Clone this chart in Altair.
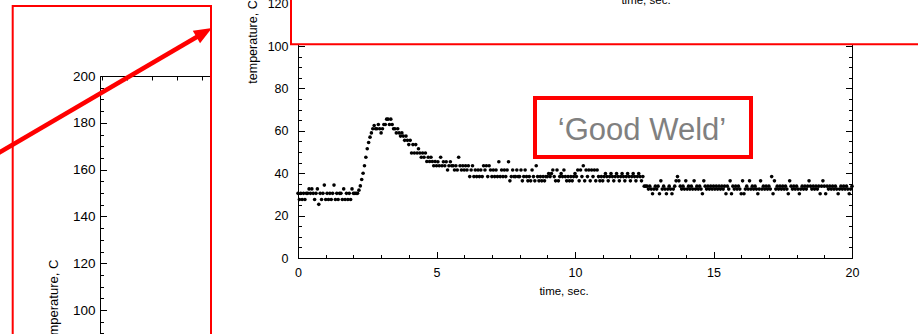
import altair as alt
import pandas as pd

FONT = "Liberation Sans"

# ---------------- data (time, s / temperature, C) ----------------
seg1_time = [0.00, 0.05, 0.10, 0.15, 0.20, 0.25, 0.30, 0.35, 0.40, 0.45,
             0.50, 0.55, 0.60, 0.65, 0.70, 0.75, 0.80, 0.85, 0.90, 0.95,
             1.00, 1.05, 1.10, 1.15, 1.20, 1.25, 1.30, 1.35, 1.40, 1.45,
             1.50, 1.55, 1.60, 1.65, 1.70, 1.75, 1.80, 1.85, 1.90, 1.95,
             2.00, 2.05, 2.10, 2.15]
seg1_temp = [30.5, 27.6, 30.5, 27.6, 30.5, 27.6, 30.5, 30.5, 32.6, 30.5,
             32.6, 30.5, 27.6, 30.5, 32.6, 25.3, 30.5, 27.6, 30.5, 34.4,
             27.6, 30.5, 27.6, 30.5, 27.6, 30.5, 34.4, 27.6, 30.5, 27.6,
             30.5, 30.5, 27.6, 32.6, 27.6, 30.5, 27.6, 30.5, 27.6, 32.6,
             30.5, 30.5, 30.5, 30.5]

seg2_time = [2.20, 2.25, 2.30, 2.35, 2.40, 2.45, 2.50, 2.55, 2.60, 2.65,
             2.70, 2.75, 2.80, 2.85, 2.90, 2.95,
             3.00, 3.05, 3.10, 3.15, 3.20, 3.25, 3.30, 3.35, 3.40, 3.45,
             3.50, 3.55, 3.60, 3.65, 3.70, 3.75, 3.80, 3.85, 3.90, 3.95,
             4.00, 4.05, 4.10, 4.15, 4.20, 4.25, 4.30, 4.35, 4.40, 4.45,
             4.50, 4.55, 4.60, 4.65, 4.70, 4.75, 4.80, 4.85, 4.90, 4.95]
seg2_temp = [32.0, 34.0, 37.0, 40.0, 43.5, 47.5, 51.5, 54.5, 57.0, 59.0,
             61.0, 62.5, 61.0, 61.0, 63.0, 61.0,
             59.0, 61.0, 63.0, 63.0, 65.5, 65.5, 63.0, 65.5, 63.0, 61.0,
             61.0, 59.0, 61.0, 59.0, 57.5, 59.0, 57.5, 55.5, 57.5, 55.5,
             53.5, 55.5, 49.5, 53.5, 49.5, 53.5, 49.5, 51.5, 49.5, 47.5,
             49.5, 47.5, 49.5, 45.5, 47.5, 45.5, 47.5, 45.5, 43.5, 45.5]

seg3_time = [5.00, 5.05, 5.10, 5.15, 5.20, 5.25, 5.30, 5.35, 5.40, 5.45,
             5.50, 5.55, 5.60, 5.65, 5.70, 5.75, 5.80, 5.85, 5.90, 5.95,
             6.00, 6.05, 6.10, 6.15, 6.20, 6.25, 6.30, 6.35, 6.40, 6.45,
             6.50, 6.55, 6.60, 6.65, 6.70, 6.75, 6.80, 6.85, 6.90, 6.95,
             7.00, 7.05, 7.10, 7.15, 7.20, 7.25, 7.30, 7.35, 7.40, 7.45,
             7.50, 7.55, 7.60, 7.65, 7.70, 7.75, 7.80, 7.85, 7.90, 7.95,
             8.00, 8.05, 8.10, 8.15, 8.20, 8.25, 8.30, 8.35, 8.40, 8.45,
             8.50, 8.55, 8.60, 8.65, 8.70, 8.75, 8.80, 8.85, 8.90, 8.95,
             9.00, 9.05, 9.10, 9.15, 9.20, 9.25, 9.30, 9.35, 9.40, 9.45,
             9.50, 9.55, 9.60, 9.65, 9.70, 9.75, 9.80, 9.85, 9.90, 9.95,
             10.00, 10.05, 10.10, 10.15, 10.20, 10.25, 10.30, 10.35, 10.40, 10.45,
             10.50, 10.55, 10.60, 10.65, 10.70, 10.75, 10.80, 10.85, 10.90, 10.95,
             11.00, 11.05, 11.10, 11.15, 11.20, 11.25, 11.30, 11.35, 11.40, 11.45,
             11.50, 11.55, 11.60, 11.65, 11.70, 11.75, 11.80, 11.85, 11.90, 11.95,
             12.00, 12.05, 12.10, 12.15, 12.20, 12.25, 12.30, 12.35, 12.40, 12.45]
seg3_temp = [43.5, 45.4, 43.5, 47.5, 43.5, 45.4, 43.5, 45.4, 41.5, 43.5,
             45.4, 43.5, 43.5, 41.5, 43.5, 41.5, 47.5, 43.5, 41.5, 43.5,
             41.5, 43.5, 41.5, 43.5, 38.4, 41.5, 43.5, 38.4, 41.5, 38.4,
             41.5, 38.4, 41.5, 38.4, 43.5, 41.5, 43.5, 38.4, 43.5, 41.5,
             38.4, 41.5, 38.4, 41.5, 38.4, 45.4, 38.4, 41.5, 38.4, 41.5,
             38.4, 41.5, 45.4, 36.4, 38.4, 41.5, 38.4, 38.4, 41.5, 38.4,
             38.4, 41.5, 36.4, 38.4, 41.5, 38.4, 36.4, 38.4, 36.4, 41.5,
             38.4, 36.4, 43.5, 38.4, 36.4, 38.4, 36.4, 38.4, 36.4, 38.4,
             38.4, 39.8, 38.4, 39.8, 41.5, 38.4, 36.4, 41.5, 36.4, 38.4,
             39.8, 38.4, 41.5, 38.4, 36.4, 38.4, 36.4, 38.4, 36.4, 38.4,
             39.8, 38.4, 41.5, 36.4, 41.5, 38.4, 43.5, 36.4, 41.5, 38.4,
             41.5, 36.4, 41.5, 38.4, 41.5, 36.4, 41.5, 38.4, 36.4, 38.4,
             36.4, 38.4, 39.8, 38.4, 36.4, 38.4, 39.8, 38.4, 36.4, 38.4,
             39.8, 38.4, 36.4, 38.4, 39.8, 38.4, 36.4, 38.4, 39.8, 38.4,
             36.4, 38.4, 39.8, 38.4, 36.4, 38.4, 39.8, 38.4, 36.4, 38.4]

seg4_time = [12.50, 12.55, 12.60, 12.65, 12.70, 12.75, 12.80, 12.85, 12.90, 12.95,
             13.00, 13.05, 13.10, 13.15, 13.20, 13.25, 13.30, 13.35, 13.40, 13.45,
             13.50, 13.55, 13.60, 13.65, 13.70, 13.75, 13.80, 13.85, 13.90, 13.95,
             14.00, 14.05, 14.10, 14.15, 14.20, 14.25, 14.30, 14.35, 14.40, 14.45,
             14.50, 14.55, 14.60, 14.65, 14.70, 14.75, 14.80, 14.85, 14.90, 14.95,
             15.00, 15.05, 15.10, 15.15, 15.20, 15.25, 15.30, 15.35, 15.40, 15.45,
             15.50, 15.55, 15.60, 15.65, 15.70, 15.75, 15.80, 15.85, 15.90, 15.95,
             16.00, 16.05, 16.10, 16.15, 16.20, 16.25, 16.30, 16.35, 16.40, 16.45,
             16.50, 16.55, 16.60, 16.65, 16.70, 16.75, 16.80, 16.85, 16.90, 16.95,
             17.00, 17.05, 17.10, 17.15, 17.20, 17.25, 17.30, 17.35, 17.40, 17.45,
             17.50, 17.55, 17.60, 17.65, 17.70, 17.75, 17.80, 17.85, 17.90, 17.95,
             18.00, 18.05, 18.10, 18.15, 18.20, 18.25, 18.30, 18.35, 18.40, 18.45,
             18.50, 18.55, 18.60, 18.65, 18.70, 18.75, 18.80, 18.85, 18.90, 18.95,
             19.00, 19.05, 19.10, 19.15, 19.20, 19.25, 19.30, 19.35, 19.40, 19.45,
             19.50, 19.55, 19.60, 19.65, 19.70, 19.75, 19.80, 19.85, 19.90, 19.95,
             20.00]
seg4_temp = [33.9, 33.9, 33.9, 32.5, 33.9, 32.5, 30.3, 32.5, 33.9, 32.5,
             33.9, 30.3, 36.4, 32.5, 33.9, 32.5, 30.3, 32.5, 33.9, 32.5,
             30.3, 32.5, 33.9, 36.4, 38.4, 36.4, 33.9, 32.5, 33.9, 32.5,
             36.4, 32.5, 33.9, 32.5, 33.9, 32.5, 36.4, 32.5, 33.9, 32.5,
             33.9, 32.5, 30.3, 36.4, 33.9, 32.5, 33.9, 32.5, 33.9, 32.5,
             33.9, 32.5, 33.9, 32.5, 33.9, 32.5, 33.9, 32.5, 33.9, 30.3,
             33.9, 32.5, 36.4, 30.3, 33.9, 32.5, 33.9, 32.5, 33.9, 32.5,
             30.3, 36.4, 30.3, 32.5, 33.9, 32.5, 36.4, 32.5, 33.9, 32.5,
             33.9, 32.5, 30.3, 32.5, 36.4, 32.5, 33.9, 32.5, 33.9, 32.5,
             33.9, 32.5, 38.4, 30.3, 36.4, 32.5, 33.9, 32.5, 33.9, 32.5,
             33.9, 32.5, 33.9, 32.5, 30.3, 36.4, 33.9, 32.5, 33.9, 32.5,
             33.9, 32.5, 30.3, 32.5, 33.9, 32.5, 33.9, 32.5, 33.9, 36.4,
             33.9, 32.5, 33.9, 32.5, 33.9, 32.5, 33.9, 30.3, 33.9, 36.4,
             33.9, 30.3, 33.9, 32.5, 33.9, 32.5, 33.9, 32.5, 33.9, 32.5,
             30.3, 32.5, 33.9, 32.5, 33.9, 32.5, 33.9, 32.5, 30.3, 32.5,
             33.9]

# tick values
main_x_major = [0, 5, 10, 15, 20]
main_x_minor = [0, 1, 2, 3, 4, 5, 6, 7, 8, 9, 10, 11, 12, 13, 14, 15, 16, 17, 18, 19, 20]
main_y_major = [0, 20, 40, 60, 80, 100, 120]
main_y_minor = [0, 5, 10, 15, 20, 25, 30, 35, 40, 45, 50, 55, 60, 65, 70, 75, 80,
                85, 90, 95, 100, 105, 110, 115, 120]
left_y_major = [100, 120, 140, 160, 180, 200]
left_y_minor = [80, 85, 90, 95, 100, 105, 110, 115, 120, 125, 130, 135, 140, 145,
                150, 155, 160, 165, 170, 175, 180, 185, 190, 195, 200]
left_top_ticks = [0, 1, 2, 3, 4]

# ---------------- build tables ----------------
df = pd.concat([
    pd.DataFrame({"time": seg1_time, "temp": seg1_temp}),
    pd.DataFrame({"time": seg2_time, "temp": seg2_temp}),
    pd.DataFrame({"time": seg3_time, "temp": seg3_temp}),
    pd.DataFrame({"time": seg4_time, "temp": seg4_temp}),
], ignore_index=True)

axis_df = pd.DataFrame({"a": [0.0], "b": [150.0]})
one = pd.DataFrame({"k": [0]})

W, H = 918, 334
XS = alt.Scale(domain=[0, 20], range=[298, 852], nice=False, zero=False)
YS = alt.Scale(domain=[0, 120], range=[258, 3.6], nice=False, zero=False)
LXS = alt.Scale(domain=[-0.08, 4.36], range=[100, 211], nice=False, zero=False)
LYS = alt.Scale(domain=[80, 200], range=[356.8, 76], nice=False, zero=False)


def axis(orient, offset, values, labels=False, ticks=True, size=0.0,
         domain=False, font_size=12.5, pad=0.0):
    return alt.Axis(orient=orient, offset=offset, values=values, labels=labels,
                    ticks=ticks, tickSize=size, domain=domain, grid=False, title=None,
                    domainColor="black", domainWidth=1, tickColor="black", tickWidth=1,
                    labelColor="black", labelFont=FONT, labelFontSize=font_size,
                    labelPadding=pad, labelFlush=False, labelOverlap=False)


ghost = alt.Chart(axis_df).mark_point(opacity=0)

layers = []

# ----- left (partial) chart axes -----
layers.append(ghost.encode(
    x=alt.X("a:Q", scale=LXS, axis=axis("bottom", 76 - H, left_top_ticks, size=4, domain=True)),
    y=alt.Y("b:Q", scale=LYS, axis=axis("right", 100 - W, left_y_minor, size=3.5, domain=True)),
))
layers.append(ghost.encode(
    x=alt.X("a:Q", scale=LXS, axis=None),
    y=alt.Y("b:Q", scale=LYS, axis=axis("right", 100 - W, left_y_major, size=6.5)),
))
layers.append(ghost.encode(
    x=alt.X("a:Q", scale=LXS, axis=None),
    y=alt.Y("b:Q", scale=LYS, axis=axis("left", -100, left_y_major, labels=True,
                                         ticks=False, font_size=13.5, pad=5)),
))

# ----- main chart -----
layers.append(alt.Chart(df).mark_circle(size=13, color="black", opacity=1).encode(
    x=alt.X("time:Q", scale=XS, axis=axis("top", -258, main_x_minor, size=3.5, domain=True)),
    y=alt.Y("temp:Q", scale=YS, axis=axis("right", 298 - W, main_y_minor, size=3.5, domain=True)),
))
layers.append(ghost.encode(
    x=alt.X("a:Q", scale=XS, axis=axis("top", -258, main_x_major, size=6.5)),
    y=alt.Y("a:Q", scale=YS, axis=axis("right", 298 - W, main_y_major, size=6.5)),
))
layers.append(ghost.encode(
    x=alt.X("a:Q", scale=XS, axis=axis("bottom", 258 - H, main_x_major, labels=True,
                                        ticks=False, pad=8)),
    y=alt.Y("a:Q", scale=YS, axis=axis("left", -298, main_y_major, labels=True,
                                        ticks=False, pad=10)),
))
layers.append(ghost.encode(
    x=alt.X("a:Q", scale=XS, axis=None),
    y=alt.Y("a:Q", scale=YS, axis=axis("left", -852, main_y_minor, size=3.5, domain=True)),
))
layers.append(ghost.encode(
    x=alt.X("a:Q", scale=XS, axis=None),
    y=alt.Y("a:Q", scale=YS, axis=axis("left", -852, main_y_major, size=6.5)),
))

# axis titles
layers.append(alt.Chart(one).mark_text(text="time, sec.", font=FONT, fontSize=11.5,
                                       color="black", align="center", baseline="middle")
              .encode(x=alt.value(564), y=alt.value(292)))
layers.append(alt.Chart(one).mark_text(text="temperature, C", font=FONT, fontSize=12.5,
                                       color="black", align="center", baseline="middle",
                                       angle=270)
              .encode(x=alt.value(252.5), y=alt.value(42)))
layers.append(alt.Chart(one).mark_text(text="temperature, C", font=FONT, fontSize=13,
                                       color="black", align="center", baseline="middle",
                                       angle=270)
              .encode(x=alt.value(54), y=alt.value(303)))

# ----- slide annotations -----
layers.append(alt.Chart(one).mark_rect(fillOpacity=0, stroke="#ff0000", strokeWidth=2)
              .encode(x=alt.value(12.7), x2=alt.value(211), y=alt.value(6), y2=alt.value(360)))
layers.append(alt.Chart(one).mark_rect(fill="white", stroke="#ff0000", strokeWidth=2)
              .encode(x=alt.value(291), x2=alt.value(940), y=alt.value(-20), y2=alt.value(44.3)))
layers.append(alt.Chart(one).mark_text(text="time, sec.", font=FONT, fontSize=11.5,
                                       color="black", align="center", baseline="alphabetic")
              .encode(x=alt.value(646), y=alt.value(4)))
layers.append(alt.Chart(one).mark_rect(fill="white", stroke="#ff0000", strokeWidth=4)
              .encode(x=alt.value(535), x2=alt.value(751), y=alt.value(98), y2=alt.value(157)))
layers.append(alt.Chart(one).mark_text(text="\u2018Good Weld\u2019", font=FONT, fontSize=31,
                                       color="#808080", align="center", baseline="alphabetic")
              .encode(x=alt.value(642), y=alt.value(140)))
layers.append(alt.Chart(one).mark_rule(color="#ff0000", strokeWidth=4.5)
              .encode(x=alt.value(-2), y=alt.value(153.2), x2=alt.value(204), y2=alt.value(32.7)))
layers.append(alt.Chart(one).mark_point(shape="M0,-1L0.8,1L-0.8,1Z", size=324, angle=59.7,
                                        filled=True, color="#ff0000", opacity=1, strokeWidth=0)
              .encode(x=alt.value(204.2), y=alt.value(32.5)))

chart = (
    alt.layer(*layers)
    .resolve_scale(x="independent", y="independent")
    .resolve_axis(x="independent", y="independent")
    .properties(width=W, height=H, autosize=alt.AutoSizeParams(type="none"), padding=0)
    .configure_view(strokeWidth=0)
    .configure_axis(grid=False)
)

chart.save("out.html", embed_options={"renderer": "svg", "actions": False})
